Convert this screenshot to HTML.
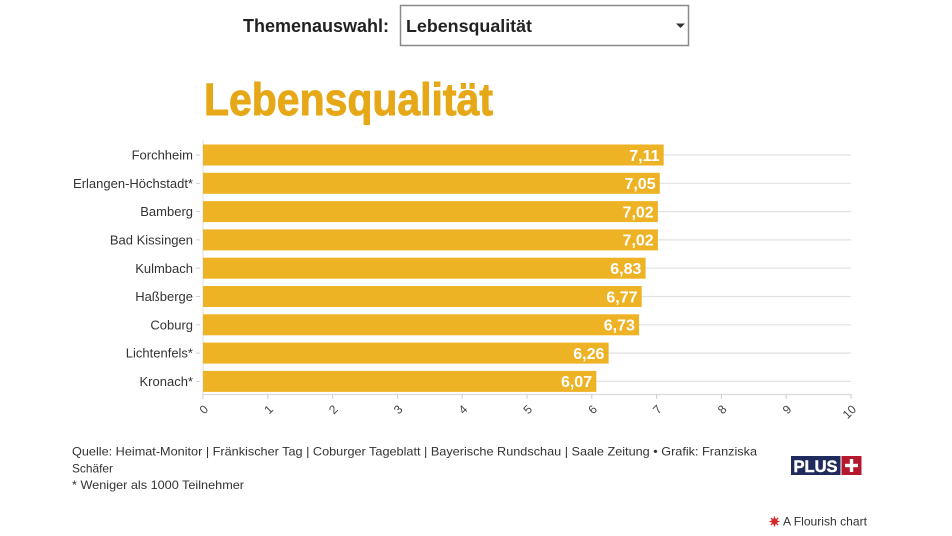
<!DOCTYPE html>
<html>
<head>
<meta charset="utf-8">
<style>
  html,body{margin:0;padding:0;background:#fff;}
  body{width:952px;height:536px;overflow:hidden;}
  svg{display:block;}
  text{font-family:"Liberation Sans",Arial,sans-serif;}
</style>
</head>
<body>
<svg width="952" height="536" viewBox="0 0 952 536" xmlns="http://www.w3.org/2000/svg">
  <rect x="0" y="0" width="952" height="536" fill="#fff"/>

  <!-- Header control -->
  <text x="243" y="32" font-size="18" font-weight="bold" fill="#222" textLength="146" lengthAdjust="spacingAndGlyphs">Themenauswahl:</text>
  <rect x="400.5" y="5.5" width="288" height="40" fill="#fff" stroke="#8a8a8a" stroke-width="1.5"/>
  <text x="406" y="32" font-size="17.5" font-weight="bold" fill="#222" textLength="126" lengthAdjust="spacingAndGlyphs">Lebensqualität</text>
  <polygon points="676,23.5 685,23.5 680.5,28" fill="#333"/>

  <!-- Title -->
  <text x="204" y="115" font-size="45" font-weight="bold" fill="#e6a817" stroke="#e6a817" stroke-width="0.9" textLength="289" lengthAdjust="spacingAndGlyphs">Lebensqualität</text>

  <!-- gridlines -->
  <g stroke="#e2e2e2" stroke-width="1.2">
    <line x1="203" y1="155" x2="851" y2="155"/>
    <line x1="203" y1="183.3" x2="851" y2="183.3"/>
    <line x1="203" y1="211.6" x2="851" y2="211.6"/>
    <line x1="203" y1="239.9" x2="851" y2="239.9"/>
    <line x1="203" y1="268.2" x2="851" y2="268.2"/>
    <line x1="203" y1="296.5" x2="851" y2="296.5"/>
    <line x1="203" y1="324.8" x2="851" y2="324.8"/>
    <line x1="203" y1="353.1" x2="851" y2="353.1"/>
    <line x1="203" y1="381.4" x2="851" y2="381.4"/>
    <line x1="203" y1="140" x2="203" y2="394"/>
  </g>
  <!-- label tick dashes -->
  <g stroke="#cfcfcf" stroke-width="1">
    <line x1="196" y1="155" x2="200" y2="155"/>
    <line x1="196" y1="183.3" x2="200" y2="183.3"/>
    <line x1="196" y1="211.6" x2="200" y2="211.6"/>
    <line x1="196" y1="239.9" x2="200" y2="239.9"/>
    <line x1="196" y1="268.2" x2="200" y2="268.2"/>
    <line x1="196" y1="296.5" x2="200" y2="296.5"/>
    <line x1="196" y1="324.8" x2="200" y2="324.8"/>
    <line x1="196" y1="353.1" x2="200" y2="353.1"/>
    <line x1="196" y1="381.4" x2="200" y2="381.4"/>
  </g>

  <!-- bars -->
  <g fill="#eeb225">
    <rect x="203" y="144.5" width="460.7" height="21"/>
    <rect x="203" y="172.8" width="456.8" height="21"/>
    <rect x="203" y="201.1" width="454.9" height="21"/>
    <rect x="203" y="229.4" width="454.9" height="21"/>
    <rect x="203" y="257.7" width="442.6" height="21"/>
    <rect x="203" y="286.0" width="438.7" height="21"/>
    <rect x="203" y="314.3" width="436.1" height="21"/>
    <rect x="203" y="342.6" width="405.6" height="21"/>
    <rect x="203" y="370.9" width="393.3" height="21"/>
  </g>

  <!-- value labels -->
  <g font-size="16" font-weight="bold" fill="#fff" text-anchor="end">
    <text x="659.5" y="160.8">7,11</text>
    <text x="655.6" y="189.1">7,05</text>
    <text x="653.7" y="217.4">7,02</text>
    <text x="653.7" y="245.7">7,02</text>
    <text x="641.4" y="274.0">6,83</text>
    <text x="637.5" y="302.3">6,77</text>
    <text x="634.9" y="330.6">6,73</text>
    <text x="604.4" y="358.9">6,26</text>
    <text x="592.1" y="387.2">6,07</text>
  </g>

  <!-- category labels -->
  <g font-size="13" fill="#333" text-anchor="end">
    <text x="193" y="159.6">Forchheim</text>
    <text x="193" y="187.9">Erlangen-Höchstadt*</text>
    <text x="193" y="216.2">Bamberg</text>
    <text x="193" y="244.5">Bad Kissingen</text>
    <text x="193" y="272.8">Kulmbach</text>
    <text x="193" y="301.1">Haßberge</text>
    <text x="193" y="329.4">Coburg</text>
    <text x="193" y="357.7">Lichtenfels*</text>
    <text x="193" y="386.0">Kronach*</text>
  </g>

  <!-- x axis -->
  <line x1="203" y1="394.5" x2="851" y2="394.5" stroke="#dcdcdc" stroke-width="1.2"/>
  <g stroke="#cfcfcf" stroke-width="1">
    <line x1="203" y1="394" x2="203" y2="399"/>
    <line x1="267.8" y1="394" x2="267.8" y2="399"/>
    <line x1="332.6" y1="394" x2="332.6" y2="399"/>
    <line x1="397.4" y1="394" x2="397.4" y2="399"/>
    <line x1="462.2" y1="394" x2="462.2" y2="399"/>
    <line x1="527" y1="394" x2="527" y2="399"/>
    <line x1="591.8" y1="394" x2="591.8" y2="399"/>
    <line x1="656.6" y1="394" x2="656.6" y2="399"/>
    <line x1="721.4" y1="394" x2="721.4" y2="399"/>
    <line x1="786.2" y1="394" x2="786.2" y2="399"/>
    <line x1="851" y1="394" x2="851" y2="399"/>
  </g>
  <g font-size="12" fill="#444" text-anchor="end">
    <text transform="translate(209,410) rotate(-45)">0</text>
    <text transform="translate(273.8,410) rotate(-45)">1</text>
    <text transform="translate(338.6,410) rotate(-45)">2</text>
    <text transform="translate(403.4,410) rotate(-45)">3</text>
    <text transform="translate(468.2,410) rotate(-45)">4</text>
    <text transform="translate(533,410) rotate(-45)">5</text>
    <text transform="translate(597.8,410) rotate(-45)">6</text>
    <text transform="translate(662.6,410) rotate(-45)">7</text>
    <text transform="translate(727.4,410) rotate(-45)">8</text>
    <text transform="translate(792.2,410) rotate(-45)">9</text>
    <text transform="translate(857,410) rotate(-45)">10</text>
  </g>

  <!-- footer -->
  <g font-size="12" fill="#333">
    <text x="72" y="455.5" textLength="685" lengthAdjust="spacingAndGlyphs">Quelle: Heimat-Monitor | Fränkischer Tag | Coburger Tageblatt | Bayerische Rundschau | Saale Zeitung • Grafik: Franziska</text>
    <text x="72" y="472.3" textLength="41" lengthAdjust="spacingAndGlyphs">Schäfer</text>
    <text x="72" y="489" textLength="172" lengthAdjust="spacingAndGlyphs">* Weniger als 1000 Teilnehmer</text>
  </g>

  <!-- PLUS logo -->
  <rect x="791" y="456" width="49.5" height="19" fill="#1e2b5c"/>
  <rect x="841.5" y="456" width="20" height="19" fill="#b5172d"/>
  <text x="815.5" y="472" font-size="17" font-weight="bold" fill="#fff" stroke="#fff" stroke-width="0.5" text-anchor="middle" textLength="44" lengthAdjust="spacingAndGlyphs">PLUS</text>
  <rect x="849.8" y="459" width="3.4" height="13" fill="#fff"/>
  <rect x="845" y="463.8" width="13" height="3.4" fill="#fff"/>

  <!-- Flourish credit -->
  <g transform="translate(774.5,521.5)">
    <circle r="3.2" fill="#d42a2a"/>
    <g stroke="#d42a2a" stroke-width="1.2">
      <line x1="-5" y1="0" x2="5" y2="0"/>
      <line x1="0" y1="-5" x2="0" y2="5"/>
      <line x1="-3.6" y1="-3.6" x2="3.6" y2="3.6"/>
      <line x1="-3.6" y1="3.6" x2="3.6" y2="-3.6"/>
    </g>
  </g>
  <text x="783" y="525.5" font-size="12" fill="#333" textLength="84" lengthAdjust="spacingAndGlyphs">A Flourish chart</text>
</svg>
</body>
</html>
